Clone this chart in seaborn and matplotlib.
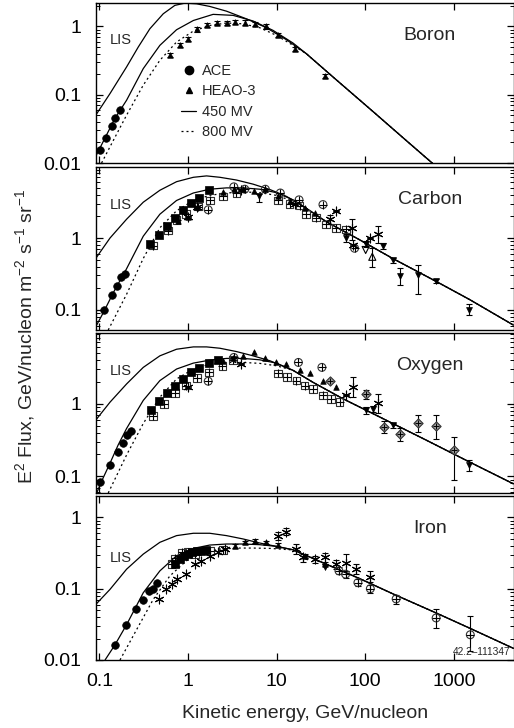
import numpy as np
import pandas as pd
import matplotlib
matplotlib.use("Agg")
import matplotlib.pyplot as plt
from matplotlib.lines import Line2D
from matplotlib.ticker import FixedLocator, LogLocator, NullFormatter, FixedFormatter, NullLocator
import seaborn as sns

# ---------------- DATA ----------------
X_TICKS = [0.1, 1, 10, 100, 1000]
X_TICKLABELS = ["0.1", "1", "10", "100", "1000"]
PANELS = ["Boron", "Carbon", "Oxygen", "Iron"]

# ---- Boron ----
B_LIS_E = [0.091, 0.132, 0.203, 0.275, 0.372, 0.526, 0.711, 0.923, 1.25, 1.76, 2.72, 4.56, 7.66, 12.9, 21.6]
B_LIS_F = [0.050, 0.104, 0.255, 0.499, 0.925, 1.53, 2.03, 2.19, 2.14, 1.96, 1.67, 1.29, 0.957, 0.638, 0.399]
B_450_E = [0.091, 0.150, 0.203, 0.313, 0.482, 0.743, 1.15, 1.92, 3.23, 5.42, 9.1, 15.3, 21.6]
B_450_F = [0.0125, 0.045, 0.083, 0.241, 0.528, 0.893, 1.22, 1.50, 1.45, 1.20, 0.875, 0.571, 0.399]
B_800_E = [0.106, 0.132, 0.203, 0.313, 0.482, 0.743, 1.15, 1.76, 2.72, 4.19, 6.44, 9.93, 15.3, 21.6]
B_800_F = [0.010, 0.0173, 0.0502, 0.138, 0.319, 0.590, 0.855, 1.03, 1.12, 1.09, 0.957, 0.74, 0.528, 0.399]
B_TAIL_E = [43.2, 122, 289, 630, 5000]
B_TAIL_F = [0.182, 0.0568, 0.0214, 0.0089, 0.00085]
B_ACE_E = [0.102, 0.119, 0.138, 0.150, 0.171]
B_ACE_F = [0.0155, 0.0229, 0.0347, 0.0459, 0.0594]
B_HEAO_E = [0.625, 0.81, 1.0, 1.25, 1.62, 2.10, 2.72, 3.37, 4.37, 5.66, 7.66, 10.4, 16.0, 34.7]
B_HEAO_F = [0.378, 0.540, 0.661, 0.904, 1.06, 1.12, 1.13, 1.17, 1.14, 1.09, 1.00, 0.755, 0.472, 0.186]

# ---- Carbon ----
C_LIS_E = [0.091, 0.132, 0.203, 0.313, 0.482, 0.743, 1.15, 1.62, 2.29, 3.52, 5.42, 8.4, 12.9, 18.2]
C_LIS_F = [0.518, 1.0, 1.83, 3.16, 4.64, 6.11, 7.04, 7.36, 7.04, 6.45, 5.65, 4.75, 3.81, 2.99]
C_450_E = [0.0933, 0.113, 0.144, 0.203, 0.313, 0.482, 0.743, 1.15, 1.76, 2.72, 4.19, 6.44, 9.93, 15.3, 18.2]
C_450_F = [0.061, 0.095, 0.173, 0.373, 1.06, 2.15, 3.34, 4.25, 4.80, 5.01, 5.01, 4.80, 4.30, 3.41, 2.99]
C_800_E = [0.126, 0.203, 0.313, 0.482, 0.743, 1.15, 1.76, 2.72, 4.19, 6.44, 9.93, 15.3, 18.2]
C_800_F = [0.052, 0.164, 0.518, 1.39, 2.40, 3.34, 3.94, 4.25, 4.40, 4.30, 3.94, 3.27, 2.99]
C_TAIL_E = [36.3, 86.1, 204, 630, 1493, 4677]
C_TAIL_F = [1.69, 0.946, 0.518, 0.248, 0.139, 0.061]
C_ACE_E = [0.113, 0.138, 0.157, 0.175, 0.195]
C_ACE_F = [0.100, 0.160, 0.215, 0.283, 0.316]
C_SQ_E = [0.372, 0.470, 0.573, 0.711, 0.868, 1.07, 1.34, 1.72]
C_SQ_F = [0.82, 1.09, 1.47, 1.93, 2.46, 3.06, 3.65, 4.75]
C_SQP_E = [0.40, 0.598, 0.743, 0.946, 1.30, 1.76, 2.49, 3.52, 10.4, 14.0, 18.2, 21.6, 28.0, 36.3, 47.1, 61.0]
C_SQP_F = [0.786, 1.27, 1.77, 2.15, 2.74, 3.34, 3.81, 4.25, 3.34, 2.99, 2.83, 2.15, 1.93, 1.55, 1.39, 1.32]
C_CP_E = [1.69, 3.29, 4.37, 7.46, 11.0, 17.9, 33.3, 75.7]
C_CP_F = [2.48, 5.18, 4.80, 4.80, 4.25, 3.41, 2.93, 0.72]
C_TRI_E = [0.78, 1.0, 1.28, 2.49, 3.29, 4.19, 5.56, 7.46, 10.4, 14.0, 20.7, 26.9]
C_TRI_F = [1.72, 1.97, 2.74, 4.40, 4.80, 4.90, 4.60, 4.80, 3.80, 3.30, 2.60, 2.20]
C_AST_E = [1.0, 1.28, 4.01, 16.0, 39.6, 47.1, 71.3, 72.4, 112, 139]
C_AST_F = [1.97, 2.74, 4.64, 2.99, 1.83, 2.35, 1.39, 0.80, 1.00, 1.14]
C_AST_LO = [1.97, 2.74, 4.64, 2.99, 1.55, 2.35, 0.95, 0.80, 1.00, 0.85]
C_AST_HI = [1.97, 2.74, 4.64, 2.99, 2.10, 2.35, 1.85, 0.80, 1.00, 1.45]
C_ITRI_E = [6.3, 61.0, 101, 158, 205, 247, 398, 630, 1493]
C_ITRI_F = [3.81, 1.00, 0.82, 0.78, 0.49, 0.293, 0.306, 0.254, 0.100]
C_ITRI_LO = [3.20, 0.88, 0.74, 0.70, 0.45, 0.22, 0.165, 0.235, 0.083]
C_ITRI_HI = [4.10, 1.12, 0.90, 0.86, 0.53, 0.38, 0.42, 0.27, 0.120]
C_OITRI_E = [101]
C_OITRI_F = [0.68]
C_OTRI_E = [120]
C_OTRI_F = [0.547]
C_OTRI_LO = [0.40]
C_OTRI_HI = [0.72]

# ---- Oxygen ----
O_LIS_E = [0.091, 0.132, 0.203, 0.313, 0.482, 0.743, 1.15, 1.62, 2.29, 3.52, 5.42, 8.4, 15.3]
O_LIS_F = [0.593, 1.05, 1.87, 3.16, 4.56, 5.62, 6.05, 6.05, 5.80, 5.22, 4.56, 3.90, 2.88]
O_450_E = [0.0933, 0.106, 0.132, 0.163, 0.203, 0.313, 0.482, 0.743, 1.15, 1.76, 2.72, 4.19, 6.44, 9.93, 15.3]
O_450_F = [0.059, 0.0855, 0.152, 0.270, 0.456, 1.11, 2.08, 3.00, 3.62, 3.98, 4.20, 4.20, 4.02, 3.62, 2.88]
O_800_E = [0.126, 0.203, 0.313, 0.482, 0.743, 1.15, 1.76, 2.72, 4.19, 6.44, 9.93, 15.3]
O_800_F = [0.059, 0.197, 0.534, 1.23, 2.19, 3.00, 3.51, 3.70, 3.70, 3.59, 3.33, 2.88]
O_TAIL_E = [25.7, 56.0, 133, 485, 1493, 4677]
O_TAIL_F = [1.97, 1.17, 0.693, 0.316, 0.158, 0.079]
O_ACE_E = [0.103, 0.132, 0.164, 0.186, 0.206, 0.227]
O_ACE_F = [0.0828, 0.144, 0.219, 0.285, 0.370, 0.424]
O_SQ_E = [0.378, 0.470, 0.573, 0.711, 0.868, 1.07, 1.34, 1.72, 2.19]
O_SQ_F = [0.811, 1.09, 1.40, 1.78, 2.19, 2.70, 3.10, 3.62, 3.98]
O_SQP_E = [0.405, 0.534, 0.711, 0.946, 1.27, 1.73, 2.45, 3.23, 10.4, 13.1, 16.7, 20.7, 25.7, 33.3, 41.3, 51.3]
O_SQP_F = [0.672, 1.00, 1.40, 1.78, 2.26, 2.70, 3.33, 3.98, 2.62, 2.31, 2.08, 1.78, 1.60, 1.30, 1.17, 1.05]
O_CP_E = [1.69, 3.29, 17.6, 32.4]
O_CP_F = [2.04, 4.33, 3.70, 3.16]
O_TRI_E = [2.49, 3.23, 4.19, 5.56, 7.35, 9.93, 12.9, 18.2, 23.6, 33.3, 47.1]
O_TRI_F = [3.90, 4.24, 4.56, 5.07, 4.24, 3.70, 3.51, 2.91, 2.62, 2.04, 1.72]
O_AST_E = [1.0, 4.01, 60.0, 72.0, 139]
O_AST_F = [1.69, 3.51, 1.30, 1.69, 1.02]
O_AST_LO = [1.69, 3.51, 1.30, 1.25, 0.74]
O_AST_HI = [1.69, 3.51, 1.30, 2.35, 1.36]
O_DIA_E = [40.3, 101, 161, 247, 398, 630, 995]
O_DIA_F = [2.08, 1.34, 0.481, 0.382, 0.534, 0.496, 0.231]
O_DIA_LO = [2.08, 1.15, 0.40, 0.31, 0.41, 0.33, 0.09]
O_DIA_HI = [2.08, 1.55, 0.58, 0.47, 0.70, 0.70, 0.35]
O_ITRI_E = [101, 122, 205, 1493]
O_ITRI_F = [0.81, 0.855, 0.507, 0.144]
O_ITRI_LO = [0.72, 0.78, 0.47, 0.12]
O_ITRI_HI = [0.90, 0.93, 0.55, 0.17]

# ---- Iron ----
I_LIS_E = [0.091, 0.132, 0.203, 0.313, 0.482, 0.743, 1.15, 1.76, 2.72, 4.19, 6.44, 9.93, 15.3]
I_LIS_F = [0.060, 0.098, 0.188, 0.306, 0.448, 0.556, 0.600, 0.600, 0.556, 0.499, 0.438, 0.393, 0.352]
I_450_E = [0.116, 0.150, 0.203, 0.313, 0.482, 0.743, 1.15, 1.76, 2.72, 4.19, 6.44, 9.93, 15.3]
I_450_F = [0.010, 0.0163, 0.0313, 0.0878, 0.178, 0.290, 0.368, 0.410, 0.424, 0.424, 0.415, 0.393, 0.352]
I_800_E = [0.171, 0.263, 0.405, 0.624, 0.961, 1.49, 2.29, 3.52, 5.42, 8.4, 15.3]
I_800_F = [0.010, 0.0266, 0.0706, 0.151, 0.247, 0.323, 0.360, 0.372, 0.372, 0.368, 0.350]
I_TAIL_E = [36.3, 86.1, 204, 630, 1493, 4677]
I_TAIL_F = [0.221, 0.139, 0.085, 0.0457, 0.0281, 0.0146]
I_ACE_E = [0.150, 0.200, 0.259, 0.313, 0.365, 0.398, 0.449]
I_ACE_F = [0.0163, 0.0306, 0.0521, 0.0706, 0.0927, 0.100, 0.122]
I_SQ_E = [0.711, 0.81, 0.906, 1.0, 1.12, 1.27, 1.42, 1.59]
I_SQ_F = [0.221, 0.260, 0.290, 0.306, 0.323, 0.341, 0.341, 0.352]
I_SQP_E = [0.653, 0.711, 0.85, 1.0, 1.21, 1.76, 2.49]
I_SQP_F = [0.221, 0.266, 0.323, 0.330, 0.306, 0.341, 0.352]
I_AST_E = [0.474, 0.564, 0.653, 0.743, 0.962, 1.19, 1.42, 1.76, 2.19, 2.60]
I_AST_F = [0.0722, 0.098, 0.115, 0.139, 0.160, 0.221, 0.247, 0.290, 0.330, 0.360]
I_TRI_E = [3.37, 4.37, 5.66, 7.53, 10.4, 20.7, 34.7]
I_TRI_F = [0.402, 0.448, 0.473, 0.448, 0.410, 0.290, 0.221]
I_AST2_E = [10.4, 12.6, 16.7, 19.8, 26.9, 34.7, 47.1, 61.0, 79.0, 112]
I_AST2_F = [0.556, 0.634, 0.360, 0.275, 0.260, 0.275, 0.221, 0.233, 0.188, 0.148]
I_AST2_LO = [0.49, 0.56, 0.31, 0.24, 0.23, 0.22, 0.19, 0.18, 0.16, 0.125]
I_AST2_HI = [0.62, 0.72, 0.42, 0.31, 0.29, 0.32, 0.25, 0.31, 0.22, 0.18]
I_CP_E = [50.5, 60.0, 82.6, 114, 223, 630, 1530]
I_CP_F = [0.178, 0.160, 0.122, 0.100, 0.072, 0.0389, 0.0226]
I_CP_LO = [0.16, 0.14, 0.11, 0.088, 0.062, 0.028, 0.0135]
I_CP_HI = [0.20, 0.18, 0.135, 0.112, 0.082, 0.052, 0.041]
I_ITRI_E = [34.7]
I_ITRI_F = [0.205]

YLIMS = [(0.01, 2.2), (0.052, 9.8), (0.059, 9.4), (0.01, 2.0)]
YTICKS = [[0.01, 0.1, 1], [0.1, 1], [0.1, 1], [0.01, 0.1, 1]]
YTICKLABELS = [["0.01", "0.1", "1"], ["0.1", "1"], ["0.1", "1"], ["0.01", "0.1", "1"]]

# ---------------- STYLE ----------------
sns.set_style("ticks")
plt.rcParams["font.family"] = ["Liberation Sans", "DejaVu Sans"]
plt.rcParams["mathtext.fontset"] = "custom"
plt.rcParams["mathtext.rm"] = "Liberation Sans"
plt.rcParams["mathtext.it"] = "Liberation Sans:italic"
plt.rcParams["mathtext.bf"] = "Liberation Sans:bold"

W, H = 514, 728
fig = plt.figure(figsize=(W / 100, H / 100), dpi=100)

left = 95.7 / W
right = 513.5 / W
bounds = [(3, 163), (167, 330), (333, 493), (496, 660)]
axes = []
for i, (t, b) in enumerate(bounds):
    ax = fig.add_axes([left, 1 - b / H, right - left, (b - t) / H],
                      sharex=axes[0] if axes else None)
    axes.append(ax)


def curve(ax, E, F, ls="-"):
    df = pd.DataFrame({"E": E, "F": F})
    sns.lineplot(data=df, x="E", y="F", ax=ax, color="k", lw=0.9, linestyle=ls,
                 sort=False, estimator=None, legend=False)


def pts(ax, E, F, kind, lo=None, hi=None):
    E = np.asarray(E, float)
    F = np.asarray(F, float)
    if lo is not None:
        lo = np.asarray(lo, float)
        hi = np.asarray(hi, float)
        ax.errorbar(E, F, yerr=[F - lo, hi - F], fmt="none", ecolor="k",
                    elinewidth=0.8, capsize=2.5, capthick=0.8, zorder=3)
    df = pd.DataFrame({"E": E, "F": F})
    common = dict(data=df, x="E", y="F", ax=ax, legend=False, zorder=4)
    if kind == "ace":
        sns.scatterplot(marker="o", s=30, color="k", edgecolor="k", linewidth=0.5, **common)
    elif kind == "sq":
        sns.scatterplot(marker="s", s=34, color="k", edgecolor="k", linewidth=0.5, **common)
    elif kind == "sqp":
        sns.scatterplot(marker="s", s=30, color="k", facecolor="none", edgecolor="#333333", linewidth=0.8, **common)
        sns.scatterplot(marker="+", s=30, color="k", edgecolor="#333333", linewidth=0.8, **common)
    elif kind == "cp":
        sns.scatterplot(marker="o", s=32, color="k", facecolor="none", edgecolor="#333333", linewidth=0.8, **common)
        sns.scatterplot(marker="+", s=32, color="k", edgecolor="#333333", linewidth=0.8, **common)
    elif kind == "tri":
        sns.scatterplot(marker="^", s=16, color="k", edgecolor="k", linewidth=0.5, **common)
    elif kind == "itri":
        sns.scatterplot(marker="v", s=18, color="k", edgecolor="k", linewidth=0.5, **common)
    elif kind == "oitri":
        sns.scatterplot(marker="v", s=26, color="k", facecolor="none", edgecolor="k", linewidth=0.8, **common)
    elif kind == "otri":
        sns.scatterplot(marker="^", s=26, color="k", facecolor="none", edgecolor="k", linewidth=0.8, **common)
    elif kind == "ast":
        sns.scatterplot(marker=(6, 2, 0), s=40, color="k", edgecolor="k", linewidth=0.8, **common)
    elif kind == "dia":
        sns.scatterplot(marker="D", s=22, color="#777777", facecolor="#999999", edgecolor="#333333", linewidth=0.8, **common)
        sns.scatterplot(marker="+", s=14, color="k", edgecolor="k", linewidth=0.7, **common)


# Boron
ax = axes[0]
curve(ax, B_LIS_E + B_TAIL_E, B_LIS_F + B_TAIL_F)
curve(ax, B_450_E + B_TAIL_E, B_450_F + B_TAIL_F)
curve(ax, B_800_E + B_TAIL_E, B_800_F + B_TAIL_F, ls=(0, (1.6, 2.4)))
pts(ax, B_ACE_E, B_ACE_F, "ace")
pts(ax, B_HEAO_E, B_HEAO_F, "tri",
    lo=[f * 0.93 for f in B_HEAO_F], hi=[f * 1.07 for f in B_HEAO_F])

# Carbon
ax = axes[1]
curve(ax, C_LIS_E + C_TAIL_E, C_LIS_F + C_TAIL_F)
curve(ax, C_450_E + C_TAIL_E, C_450_F + C_TAIL_F)
curve(ax, C_800_E + C_TAIL_E, C_800_F + C_TAIL_F, ls=(0, (1.6, 2.4)))
pts(ax, C_ACE_E, C_ACE_F, "ace")
pts(ax, C_SQP_E, C_SQP_F, "sqp")
pts(ax, C_SQ_E, C_SQ_F, "sq")
pts(ax, C_CP_E, C_CP_F, "cp")
pts(ax, C_TRI_E, C_TRI_F, "tri")
pts(ax, C_AST_E, C_AST_F, "ast", C_AST_LO, C_AST_HI)
pts(ax, C_ITRI_E, C_ITRI_F, "itri", C_ITRI_LO, C_ITRI_HI)
pts(ax, C_OITRI_E, C_OITRI_F, "oitri")
pts(ax, C_OTRI_E, C_OTRI_F, "otri", C_OTRI_LO, C_OTRI_HI)

# Oxygen
ax = axes[2]
curve(ax, O_LIS_E + O_TAIL_E, O_LIS_F + O_TAIL_F)
curve(ax, O_450_E + O_TAIL_E, O_450_F + O_TAIL_F)
curve(ax, O_800_E + O_TAIL_E, O_800_F + O_TAIL_F, ls=(0, (1.6, 2.4)))
pts(ax, O_ACE_E, O_ACE_F, "ace")
pts(ax, O_SQP_E, O_SQP_F, "sqp")
pts(ax, O_SQ_E, O_SQ_F, "sq")
pts(ax, O_CP_E, O_CP_F, "cp")
pts(ax, O_TRI_E, O_TRI_F, "tri")
pts(ax, O_AST_E, O_AST_F, "ast", O_AST_LO, O_AST_HI)
pts(ax, O_DIA_E, O_DIA_F, "dia", O_DIA_LO, O_DIA_HI)
pts(ax, O_ITRI_E, O_ITRI_F, "itri", O_ITRI_LO, O_ITRI_HI)

# Iron
ax = axes[3]
curve(ax, I_LIS_E + I_TAIL_E, I_LIS_F + I_TAIL_F)
curve(ax, I_450_E + I_TAIL_E, I_450_F + I_TAIL_F)
curve(ax, I_800_E + I_TAIL_E, I_800_F + I_TAIL_F, ls=(0, (1.6, 2.4)))
pts(ax, I_ACE_E, I_ACE_F, "ace")
pts(ax, I_SQP_E, I_SQP_F, "sqp")
pts(ax, I_SQ_E, I_SQ_F, "sq")
pts(ax, I_AST_E, I_AST_F, "ast")
pts(ax, I_TRI_E, I_TRI_F, "tri",
    lo=[f * 0.94 for f in I_TRI_F], hi=[f * 1.06 for f in I_TRI_F])
pts(ax, I_AST2_E, I_AST2_F, "ast", I_AST2_LO, I_AST2_HI)
pts(ax, I_CP_E, I_CP_F, "cp", I_CP_LO, I_CP_HI)
pts(ax, I_ITRI_E, I_ITRI_F, "itri")

# axes formatting
for i, ax in enumerate(axes):
    ax.set_xscale("log")
    ax.set_yscale("log")
    ax.set_xlim(0.091, 4700)
    ax.set_ylim(*YLIMS[i])
    ax.set_xlabel("")
    ax.set_ylabel("")
    for s in ax.spines.values():
        s.set_visible(True)
        s.set_linewidth(1.0)
        s.set_color("k")
    ax.xaxis.set_major_locator(FixedLocator(X_TICKS))
    ax.xaxis.set_minor_locator(NullLocator())
    ax.yaxis.set_major_locator(FixedLocator(YTICKS[i]))
    ax.yaxis.set_major_formatter(FixedFormatter(YTICKLABELS[i]))
    ax.yaxis.set_minor_locator(LogLocator(base=10, subs=np.arange(2, 10), numticks=20))
    ax.yaxis.set_minor_formatter(NullFormatter())
    ax.tick_params(which="both", direction="in", top=True, right=True, colors="k")
    ax.tick_params(which="major", length=5, width=0.9, labelsize=14)
    ax.tick_params(axis="y", which="major", pad=10.5)
    ax.tick_params(which="minor", length=3, width=0.7)
    if i < 3:
        ax.tick_params(axis="x", labelbottom=False)
    else:
        ax.xaxis.set_major_formatter(FixedFormatter(X_TICKLABELS))
        ax.tick_params(axis="x", pad=9)
    ax.text(0.80, 0.80, PANELS[i], transform=ax.transAxes, ha="center", va="center",
            fontsize=14)

LIS_Y = [0.77, 0.765, 0.765, 0.62]
for ax, y in zip(axes, LIS_Y):
    ax.text(0.034, y, "LIS", transform=ax.transAxes, ha="left", va="center", fontsize=10.5)

handles = [
    Line2D([], [], marker="o", color="k", ls="none", markersize=6),
    Line2D([], [], marker="^", color="k", ls="none", markersize=5),
    Line2D([], [], color="k", lw=0.9),
    Line2D([], [], color="k", lw=0.9, ls=(0, (1.6, 2.4))),
]
axes[0].legend(handles, ["ACE", "HEAO-3", "450 MV", "800 MV"], loc="upper left",
               bbox_to_anchor=(0.205, 0.62), frameon=False, fontsize=10.5,
               handlelength=1.0, handletextpad=0.4, labelspacing=0.45,
               borderpad=0, borderaxespad=0)

axes[3].text(0.854, 0.05, "42.2\u2013111347", transform=axes[3].transAxes,
             ha="left", va="center", fontsize=7.3)

fig.text(25 / W, 1 - 336 / H,
         "E$^2$ Flux, GeV/nucleon m$^{-2}$ s$^{-1}$ sr$^{-1}$",
         rotation=90, ha="center", va="center", fontsize=14)
fig.text((left + right) / 2, 1 - 713 / H, "Kinetic energy, GeV/nucleon",
         ha="center", va="center", fontsize=14)

fig.savefig("out.png", dpi=100)
